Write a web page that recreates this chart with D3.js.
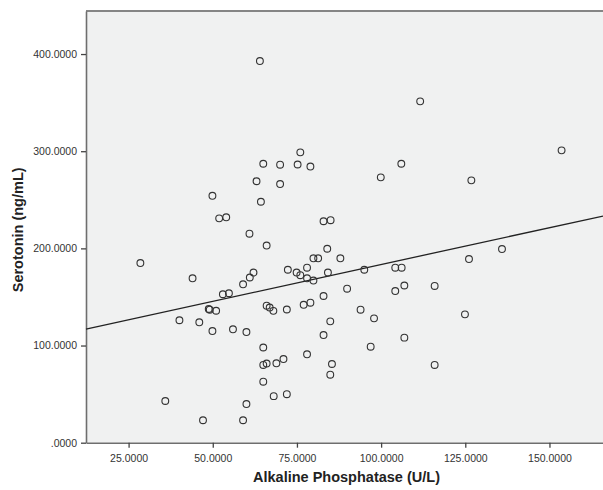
<!doctype html>
<html lang="en">

<head>
    <meta charset="UTF-8">
    <title>Serotonin vs Alkaline Phosphatase</title>
    <script src="https://cdn.jsdelivr.net/npm/d3@7"></script>
    <style>
        body { margin: 0; background: #fff; overflow: hidden; }
        svg { display: block; }
        svg text { font-family: "Liberation Sans", Arial, sans-serif; }
    </style>
</head>

<body>
    <svg width="603" height="490"></svg>
    <script>
        // Alkaline Phosphatase (U/L)
        var alp = [64.0, 65.0, 70.0, 75.2, 76.0, 79.0, 63.0, 70.0, 49.9, 64.3,
            51.9, 54.0, 82.9, 85.0, 60.9, 66.0, 84.0, 79.9, 81.3, 87.9,
            78.0, 72.3, 74.9, 76.0, 78.0, 79.9, 84.2, 62.1, 61.0, 59.0,
            44.0, 89.9, 53.0, 54.8, 28.5, 48.8, 49.1, 51.0, 40.1, 46.0,
            49.9, 56.0, 60.0, 66.0, 66.9, 68.0, 72.0, 77.0, 79.0, 82.9,
            93.9, 84.9, 82.9, 65.0, 65.0, 66.0, 68.9, 71.0, 78.0, 85.4,
            84.9, 65.0, 68.1, 72.0, 60.0, 35.9, 47.1, 59.0, 95.0, 104.2,
            106.1, 126.1, 135.9, 104.2, 106.9, 115.9, 97.9, 124.9, 106.9, 96.9,
            115.9, 111.6, 153.6, 99.9, 106.0, 126.8];

        // Serotonin (ng/mL)
        var serotonin = [392.8, 287.1, 286.1, 286.3, 298.8, 284.2, 269.1, 266.2, 254.1, 248.0,
            230.9, 232.0, 227.9, 229.0, 215.1, 202.9, 199.6, 189.8, 189.8, 189.8,
            180.1, 178.0, 175.1, 172.4, 169.2, 166.9, 175.1, 175.1, 170.0, 163.0,
            169.2, 158.5, 152.8, 153.8, 184.9, 137.6, 136.9, 135.8, 126.0, 123.9,
            114.9, 116.7, 113.9, 141.0, 139.1, 135.7, 137.1, 141.9, 144.1, 151.0,
            136.9, 124.9, 110.8, 98.0, 80.0, 81.5, 81.7, 86.1, 91.0, 81.0,
            70.0, 62.8, 47.9, 49.9, 39.8, 42.9, 23.1, 23.1, 178.0, 180.1,
            180.1, 189.0, 199.3, 156.1, 161.8, 161.3, 128.0, 132.1, 108.1, 98.8,
            80.0, 351.3, 300.9, 273.1, 287.1, 270.0];

        var xTicks = [25, 50, 75, 100, 125, 150];
        var yTicks = [0, 100, 200, 300, 400];

        // linear fit line
        var fitIntercept = 107.65, fitSlope = 0.7574;

        var svg = d3.select("svg"),
            pLeft = 86, pTop = 11, pRight = 603, pBottom = 442.7;

        var x = d3.scaleLinear().domain([12.35, 165.9]).range([pLeft, pRight]);
        var y = d3.scaleLinear().domain([0, 444.3]).range([pBottom, pTop]);

        var fmt = function (d) {
            var s = d3.format(".4f")(d);
            return s.replace(/^0\./, ".");
        };

        // plot background
        svg.append("rect")
            .attr("x", pLeft).attr("y", pTop)
            .attr("width", pRight - pLeft).attr("height", pBottom - pTop)
            .attr("fill", "#f0f1f1");

        // top frame line
        svg.append("line")
            .attr("x1", pLeft).attr("x2", pRight)
            .attr("y1", pTop).attr("y2", pTop)
            .attr("stroke", "#858585").attr("stroke-width", 2);

        var xAxis = svg.append("g")
            .attr("transform", "translate(0," + pBottom + ")")
            .call(d3.axisBottom(x).tickValues(xTicks).tickFormat(fmt).tickSize(5).tickSizeOuter(0));

        var yAxis = svg.append("g")
            .attr("transform", "translate(" + pLeft + ",0)")
            .call(d3.axisLeft(y).tickValues(yTicks).tickFormat(fmt).tickSize(5).tickSizeOuter(0));

        [xAxis, yAxis].forEach(function (a) {
            a.select(".domain").attr("stroke", "#6e6e6e").attr("stroke-width", 1.6);
            a.selectAll(".tick line").attr("stroke", "#444").attr("stroke-width", 1.3);
            a.selectAll(".tick text")
                .attr("fill", "#333")
                .style("font-size", "10.5px")
                .style("font-family", "'Liberation Sans', Arial, sans-serif");
        });
        xAxis.selectAll(".tick text").attr("dy", "1.1em");
        yAxis.selectAll(".tick text").attr("x", -9);

        // fit line
        var xd = x.domain();
        svg.append("line")
            .attr("x1", x(xd[0])).attr("y1", y(fitIntercept + fitSlope * xd[0]))
            .attr("x2", x(xd[1])).attr("y2", y(fitIntercept + fitSlope * xd[1]))
            .attr("stroke", "#222").attr("stroke-width", 1.3);

        // points
        svg.append("g").selectAll("circle")
            .data(alp.map(function (v, i) { return [v, serotonin[i]]; }))
            .enter().append("circle")
            .attr("cx", function (d) { return x(d[0]); })
            .attr("cy", function (d) { return y(d[1]); })
            .attr("r", 3.4)
            .attr("fill", "none")
            .attr("stroke", "#333")
            .attr("stroke-width", 1.1);

        // axis titles
        svg.append("text")
            .attr("x", (pLeft + pRight) / 2 + 2).attr("y", 482)
            .attr("text-anchor", "middle")
            .style("font-size", "14.5px").style("font-weight", "bold")
            .attr("fill", "#222")
            .text("Alkaline Phosphatase (U/L)");

        svg.append("text")
            .attr("transform", "translate(23," + ((pTop + pBottom) / 2 + 3) + ") rotate(-90)")
            .attr("text-anchor", "middle")
            .style("font-size", "14.5px").style("font-weight", "bold")
            .attr("fill", "#222")
            .text("Serotonin (ng/mL)");
    </script>
</body>

</html>
